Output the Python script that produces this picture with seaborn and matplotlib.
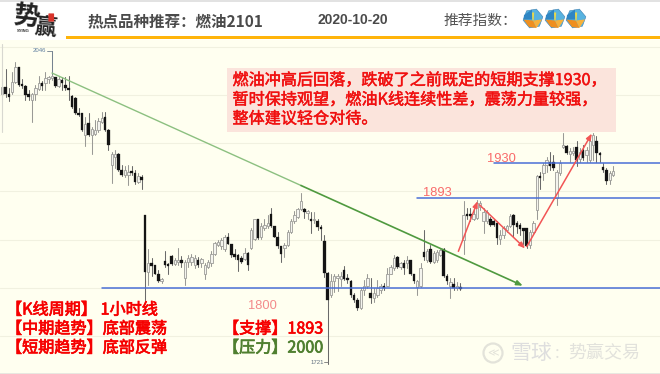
import numpy as np
import pandas as pd
import matplotlib
matplotlib.use("Agg")
import matplotlib.pyplot as plt
import matplotlib.patheffects as pe
from matplotlib.patches import Polygon, Rectangle, Circle, FancyBboxPatch
import seaborn as sns

opens = [2001,2008,2001,2003,2013,2029,2010,2009,2001,1995,
         2001,2006,2012,2012,2017,2018,2019,2009,2015,2010,
         2007,1999,1997,1981,1981,1958,1971,1958,1960,1964,
         1972,1977,1964,1927,1936,1939,1922,1917,1917,1920,
         1919,1910,1915,
         1876,1817,1826,1824,1815,1807,1828,1824,1833,1825,1827,
         1829,1810,1827,1827,1824,1829,1826,1815,1822,1826,1835,
         1845,1843,1840,1853,1846,1835,1834,1831,1830,1836,1841,
         1851,1871,1853,1862,1864,1877,1864,1853,1843,1841,1845,
         1858,1869,1874,1882,1882,1878,1872,1870,1869,1863,1849,
         1816,1793,1807,1810,1809,1819,1810,
         1807,1793,1788,1779,1798,1802,1795,1790,1793,1798,1802,
         1802,1815,1821,1832,1822,1826,1826,1829,1814,1801,1802,
         1837,1829,1840,1827,1829,1834,1840,1812,1802,1804,1800,1801,
         1850,1877,1877,1872,1873,1884,1869,1869,1871,1869,1867,
         1851,1855,1860,1864,1876,1867,1865,1862,1862,1845,1858,
         1881,1916,1919,1927,1931,1931,1893,1919,1946,1947,1939,
         1940,1946,1934,1943,1938,1933,1948,1952,1940,1925,1922,
         1912,1917]
closes = [2008,2001,1998,2013,2029,2010,2009,2000,1998,2001,
          2007,2012,2009,2018,2019,2019,2009,2017,2012,2007,
          2005,1987,1981,1979,1964,1970,1958,1965,1964,1973,
          1976,1964,1948,1939,1939,1922,1917,1922,1920,1919,
          1910,1916,1912,
          1817,1826,1823,1815,1807,1809,1824,1823,1825,1829,1829,
          1826,1827,1831,1832,1831,1824,1830,1824,1827,1835,1847,
          1848,1850,1853,1846,1834,1832,1829,1827,1836,1824,1860,
          1871,1852,1864,1865,1867,1864,1853,1843,1835,1845,1858,
          1869,1876,1882,1890,1879,1880,1869,1871,1863,1861,1816,
          1788,1807,1812,1812,1812,1809,1808,
          1793,1788,1779,1798,1802,1810,1790,1795,1800,1802,1800,
          1815,1822,1831,1822,1826,1821,1829,1814,1807,1807,1821,
          1832,1838,1827,1836,1837,1839,1812,1807,1806,1800,1802,1799,
          1876,1875,1875,1877,1888,1888,1879,1879,1865,1865,1852,
          1855,1862,1864,1875,1865,1863,1861,1859,1843,1858,1867,
          1916,1914,1927,1933,1926,1924,1920,1929,1948,1940,1942,
          1942,1933,1941,1935,1943,1952,1958,1940,1938,1922,1911,
          1919,1921]
highs = [2017,2027,2007,2024,2034,2029,2017,2010,2005,2002,
         2010,2020,2014,2024,2020,2046,2019,2019,2019,2019,
         2020,2000,1998,1986,1981,1977,1981,1967,1974,1976,
         1982,1982,1965,1941,1943,1940,1927,1926,1927,1926,
         1922,1919,1917,
         1876,1840,1831,1824,1819,1810,1838,1826,1834,1831,1841,
         1833,1829,1834,1835,1834,1832,1831,1826,1829,1838,1848,
         1850,1852,1855,1857,1846,1840,1835,1833,1841,1837,1862,
         1872,1872,1867,1872,1876,1883,1864,1858,1844,1847,1860,
         1871,1880,1883,1898,1883,1881,1879,1879,1871,1865,1855,
         1817,1814,1814,1815,1817,1823,1814,
         1808,1795,1790,1800,1808,1814,1810,1800,1808,1804,1805,
         1821,1824,1834,1833,1827,1829,1833,1829,1815,1808,1826,
         1860,1840,1845,1838,1839,1840,1841,1814,1810,1810,1806,1805,
         1890,1883,1883,1884,1891,1890,1883,1881,1874,1872,1869,
         1860,1864,1865,1877,1877,1869,1867,1862,1862,1860,1869,
         1917,1920,1929,1936,1941,1938,1922,1933,1961,1948,1945,
         1946,1952,1945,1948,1946,1955,1961,1957,1941,1929,1924,
         1921,1926]
lows = [1998,1998,1994,2001,2012,2009,2007,1995,1995,1972,
        1995,2005,2005,2005,2012,2015,2008,2008,2005,2005,
        1995,1986,1980,1978,1963,1947,1957,1939,1958,1962,
        1971,1963,1943,1909,1924,1921,1916,1915,1907,1917,
        1908,1909,1903,
        1788,1803,1812,1814,1806,1805,1822,1815,1824,1824,1824,
        1822,1803,1822,1824,1821,1822,1822,1809,1821,1823,1834,
        1843,1840,1838,1846,1832,1830,1818,1826,1829,1819,1840,
        1850,1851,1851,1860,1862,1863,1853,1841,1827,1832,1844,
        1857,1867,1873,1881,1873,1871,1857,1867,1860,1850,1811,
        1721,1791,1796,1797,1802,1808,1805,
        1791,1786,1777,1778,1793,1800,1784,1786,1791,1795,1798,
        1802,1814,1819,1821,1820,1815,1821,1813,1805,1793,1801,
        1829,1827,1826,1826,1827,1833,1811,1804,1790,1798,1798,1798,
        1835,1871,1869,1870,1872,1881,1857,1867,1864,1864,1846,
        1846,1852,1858,1863,1853,1857,1855,1846,1841,1841,1857,
        1872,1903,1912,1920,1922,1922,1886,1917,1945,1939,1931,
        1938,1926,1931,1933,1931,1931,1933,1931,1931,1920,1908,
        1908,1916]

grid_levels = [1750, 1800, 1850, 1900, 1950, 2000, 2050]
support_levels = [1800, 1893, 1930]
support_starts = [30, 125, 148]
support_ends = [198, 198, 198]
level_labels = ["1800", "1893", "1930"]
trend_idx = [15, 90, 156.8]
trend_price = [2022.7, 1906.2, 1802.4]
red_idx = [[137.4, 143.2], [143.8, 157.5], [158, 177.6]]
red_price = [[1838, 1890], [1886, 1841], [1843, 1960]]

sns.set_theme(style="white")
plt.rcParams['font.family'] = ['Noto Sans CJK SC', 'DejaVu Sans']
plt.rcParams['axes.unicode_minus'] = False
CJK = ['Noto Sans CJK SC', 'DejaVu Sans']
LAT = ['Liberation Sans', 'DejaVu Sans']

W, H = 660, 374
fig = plt.figure(figsize=(W/100, H/100), dpi=100, facecolor='#ffffff')
top = 40
ax = fig.add_axes([0, 0, 1, (H-top)/H], facecolor='#fffff0')
scale_x = 3.32
ax.set_xlim(-2.2/scale_x, (W-2.2)/scale_x)
ax.set_ylim(1800-1.036*(H-288), 1800+1.036*(288-top))

idx = np.arange(len(opens))
df = pd.DataFrame({'i': idx, 'o': opens, 'c': closes, 'h': highs, 'l': lows})
df['up'] = df.c >= df.o
long_w = df.melt(id_vars=['i', 'up'], value_vars=['h', 'l'], value_name='price')

for lv in grid_levels:
    ax.axhline(lv, color='#f1f1e0', lw=0.8, zorder=1)

for up, col in [(True, '#9a9a96'), (False, '#6a6a6a')]:
    sns.lineplot(data=long_w[long_w.up == up], x='i', y='price', units='i', estimator=None,
                 sort=False, color=col, lw=0.75, ax=ax, legend=False, zorder=2)

up_df = df[df.up]
dn_df = df[~df.up]
ax.bar(up_df.i, np.maximum(up_df.c-up_df.o, 1.5), bottom=up_df.o, width=0.72,
       facecolor='#f4f4ee', edgecolor='#9c9c98', lw=0.6, zorder=3)
ax.bar(dn_df.i, np.maximum(dn_df.o-dn_df.c, 2), bottom=dn_df.c, width=0.78,
       facecolor='#141414', edgecolor='#141414', lw=0.2, zorder=3)

# support lines
for lv, a, b in zip(support_levels, support_starts, support_ends):
    sns.lineplot(x=[a, b], y=[lv, lv], color='#4a6fd6', lw=1.1, ax=ax, legend=False, zorder=4)

# green trend line
sns.lineplot(x=trend_idx[:2], y=trend_price[:2], color='#8cc080', lw=1.0, ax=ax, legend=False, zorder=5)
ax.annotate('', xy=(trend_idx[2], trend_price[2]), xytext=(trend_idx[1], trend_price[1]),
            arrowprops=dict(arrowstyle='-|>,head_length=0.3,head_width=0.12', color='#4f9a3f', lw=1.2,
                            shrinkA=0, shrinkB=0), zorder=5)

# red zig-zag arrows
for xs, ys in zip(red_idx, red_price):
    ax.annotate('', xy=(xs[1], ys[1]), xytext=(xs[0], ys[0]),
                arrowprops=dict(arrowstyle='-|>,head_length=0.3,head_width=0.12', color='#f25555', lw=1.1,
                                shrinkA=0, shrinkB=0), zorder=5)

# extreme markers
ax.plot([13.5, 15, 15], [2046, 2046, 2022], color='#6f7f8f', lw=0.6, zorder=4)
ax.text(13.2, 2046, '2046', fontsize=4.3, color='#5f7f9f', ha='right', va='center', family=LAT)
ax.plot([97, 98.2], [1723, 1723], color='#777777', lw=0.6, zorder=4)
ax.text(96.8, 1723, '1721', fontsize=4.3, color='#5f6f7f', ha='right', va='center', family=LAT)

ax.set_xlabel('')
ax.set_ylabel('')
ax.set_xticks([])
ax.set_yticks([])
for s in ax.spines.values():
    s.set_visible(False)

# overlay in image pixels for the slide decoration
ov = fig.add_axes([0, 0, 1, 1], facecolor='none')
ov.set_xlim(0, W)
ov.set_ylim(H, 0)
ov.axis('off')
ov.add_patch(Rectangle((0, 0), W, 2, color='#e2e2e2', lw=0))
ov.add_patch(Rectangle((66, 36), W-66, 2.5, color='#ffb40a', lw=0))
ov.plot([1.5, 1.5], [44, 132], color='#d8d8d0', lw=0.8)
ov.add_patch(Rectangle((0, 372.5), W, 1.5, color='#e8e8e0', lw=0))

def heavy(col, w=0.35):
    return [pe.withStroke(linewidth=w, foreground=col)]

# logo
ov.text(26, 16.5, '势', fontsize=19, color='#222222', ha='center', va='center', family=CJK, weight='bold', rotation=-6)
ov.text(45, 27.5, '赢', fontsize=16, color='#222222', ha='center', va='center', family=CJK, weight='bold', rotation=-6)
ov.text(23, 31, 'SYING', fontsize=3, color='#333333', ha='center', va='center', family=LAT, weight='bold')
ov.add_patch(FancyBboxPatch((49, 14), 4.5, 7, boxstyle='round,pad=0.6', color='#d9342b', lw=0, zorder=5))

# header
ov.text(87, 21.5, '热点品种推荐\uff1a燃油2101', fontsize=11.2, color='#4a4a4a', ha='left', va='center', family=CJK, weight='bold')
ov.text(317, 20, '2020-10-20', fontsize=10, color='#4a4a4a', ha='left', va='center', family=LAT, weight='bold')
ov.text(443, 20.5, '推荐指数\uff1a', fontsize=10.6, color='#555555', ha='left', va='center', family=CJK)

def cube(cx, cy, r=10):
    pts = [(cx + r*np.sin(a), cy - r*np.cos(a)) for a in np.radians(np.arange(0, 360, 60) + 20)]
    ov.add_patch(Polygon(pts, closed=True, facecolor='#58b3e0', edgecolor='#3d7fb0', lw=0.4, zorder=6))
    ov.add_patch(Polygon([(cx-r*0.95, cy+1), (cx, cy+2), (cx+r*0.35, cy+r*0.95), (cx-r*0.4, cy+r*0.85)],
                         closed=True, facecolor='#ef8f1f', lw=0, zorder=7))
    ov.add_patch(Polygon([(cx, cy+2), (cx+r*0.9, cy+1), (cx+r*0.35, cy+r*0.95)],
                         closed=True, facecolor='#f7b13b', lw=0, zorder=7))
    ov.add_patch(Polygon([(cx-1, cy-r*0.6), (cx+1.2, cy-r*0.6), (cx+0.6, cy+2), (cx-0.6, cy+2)],
                         closed=True, facecolor='#e8d84a', lw=0, zorder=8))
    ov.add_patch(Polygon([(cx-r*0.9, cy-r*0.35), (cx-1, cy-r*0.9), (cx-1, cy+1), (cx-r*0.95, cy+1)],
                         closed=True, facecolor='#2f86c4', lw=0, zorder=7))

for c in (533, 555, 576):
    cube(c, 18.5)

# message box
ov.add_patch(Rectangle((227, 68), 389, 64, color='#fbe4dc', lw=0, zorder=6))
msg = ['燃油冲高后回落\uff0c跌破了之前既定的短期支撑1930\uff0c',
       '暂时保持观望\uff0c燃油K线连续性差\uff0c震荡力量较强\uff0c',
       '整体建议轻仓对待\u3002']
for t, y in zip(msg, [80.5, 100, 119]):
    ov.text(232.5, y, t, fontsize=11.6, color='#f01010', ha='left', va='center', family=CJK, zorder=7,
            path_effects=heavy('#f01010'))

# level labels
for t, (x, y), col in zip(level_labels, [(248, 306), (423, 192.5), (487, 158.5)], ['#f38a8a', '#f96a6a', '#f96a6a']):
    ov.text(x, y, t, fontsize=9.3, color=col, ha='left', va='center', family=LAT, zorder=7)

# bottom-left block
for t, y in zip(['【K线周期】 1小时线', '【中期趋势】底部震荡', '【短期趋势】底部反弹'], [310, 329, 348]):
    ov.text(6, y, t, fontsize=11.6, color='#f60000', ha='left', va='center', family=CJK, zorder=7,
            path_effects=heavy('#f60000', 0.5))
ov.text(223, 329, '【支撑】1893', fontsize=11.6, color='#f60000', ha='left', va='center', family=CJK, zorder=7,
        path_effects=heavy('#f60000', 0.5))
ov.text(223, 348, '【压力】2000', fontsize=11.6, color='#4f7f2f', ha='left', va='center', family=CJK, zorder=7,
        path_effects=heavy('#4f7f2f', 0.5))

# watermark
ov.add_patch(Circle((493, 353), 9.5, facecolor='none', edgecolor='#e3e3da', lw=1.6, zorder=7))
ov.text(493, 353, '≪', fontsize=8, color='#e3e3da', ha='center', va='center', family=['DejaVu Sans'], zorder=7)
ov.text(510, 353, '雪球', fontsize=15, color='#dedede', ha='left', va='center', family=CJK, zorder=7)
ov.text(555, 353, ':', fontsize=12, color='#e2e2dc', ha='left', va='center', family=CJK, zorder=7)
ov.text(568, 353, '势赢交易', fontsize=13, color='#e2e2dc', ha='left', va='center', family=CJK, zorder=7)

fig.savefig('out.png', dpi=100, facecolor=fig.get_facecolor())
